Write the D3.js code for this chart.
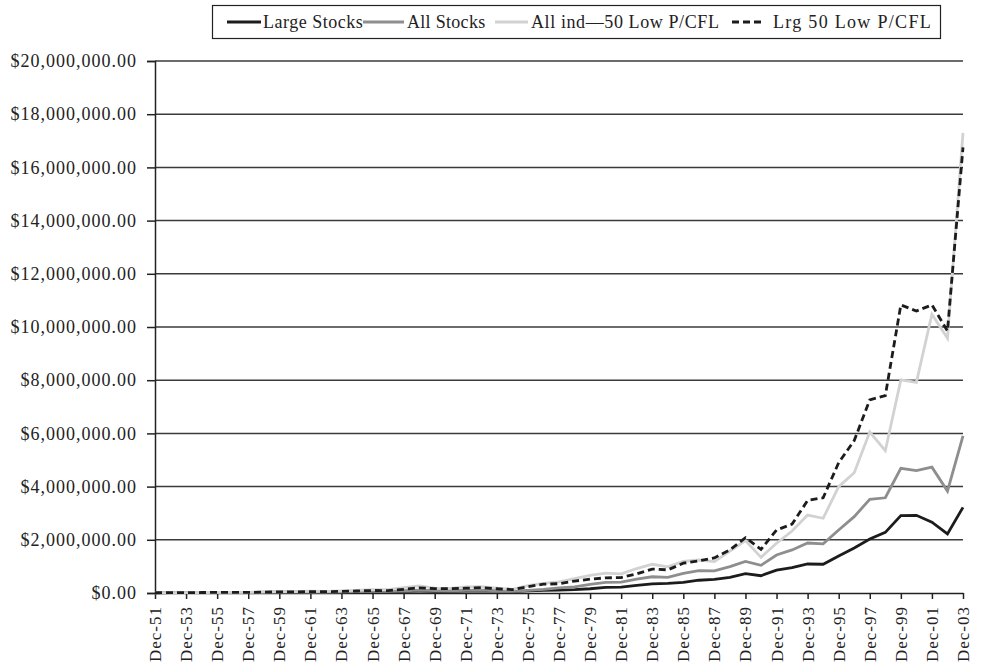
<!DOCTYPE html>
<html>
<head>
<meta charset="utf-8">
<script src="https://cdn.jsdelivr.net/npm/d3@7"></script>
<style>
  html, body { margin: 0; padding: 0; background: #fff; }
  svg { display: block; }
  text { font-family: "Liberation Serif", "Times New Roman", serif; fill: #222; }
</style>
</head>
<body>
<svg id="chart" width="981" height="666"></svg>
<script>
// ---- Data (values in thousands of dollars, year-end) ----
const years = ["Dec-51","Dec-52","Dec-53","Dec-54","Dec-55","Dec-56","Dec-57","Dec-58","Dec-59","Dec-60",
  "Dec-61","Dec-62","Dec-63","Dec-64","Dec-65","Dec-66","Dec-67","Dec-68","Dec-69","Dec-70",
  "Dec-71","Dec-72","Dec-73","Dec-74","Dec-75","Dec-76","Dec-77","Dec-78","Dec-79","Dec-80",
  "Dec-81","Dec-82","Dec-83","Dec-84","Dec-85","Dec-86","Dec-87","Dec-88","Dec-89","Dec-90",
  "Dec-91","Dec-92","Dec-93","Dec-94","Dec-95","Dec-96","Dec-97","Dec-98","Dec-99","Dec-00",
  "Dec-01","Dec-02","Dec-03"];

const largeStocks = [10,11,11,16,20,21,19,27,30,30,
  37,34,41,47,54,50,60,67,62,64,
  73,85,74,55,78,98,110,125,160,210,
  220,290,340,360,400,480,510,590,730,650,
  860,950,1090,1080,1390,1690,2030,2280,2910,2920,
  2660,2220,3220];

const allStocks = [10,11,11,16,19,21,19,28,32,33,
  42,37,45,52,65,60,85,105,88,85,
  100,108,82,60,95,135,190,230,320,400,
  410,520,610,590,740,840,830,990,1190,1040,
  1430,1620,1880,1850,2370,2870,3520,3580,4690,4600,
  4730,3830,5910];

const allIndLowPCFL = [10,12,12,19,24,27,24,40,48,50,
  68,62,82,100,130,125,200,265,185,175,
  230,240,185,140,280,360,420,540,660,750,
  720,920,1080,980,1190,1240,1180,1580,1970,1340,
  1870,2330,2930,2810,4000,4520,6050,5350,8010,7920,
  10480,9580,17300];

const lrgLowPCFL = [10,11,12,18,23,25,22,35,40,41,
  52,48,62,75,95,90,140,195,165,160,
  180,200,160,130,240,330,350,450,520,570,
  580,720,900,870,1120,1210,1320,1620,2080,1640,
  2370,2590,3480,3580,4900,5730,7260,7420,10830,10600,
  10830,9850,16750];

const seriesNames = ["Large Stocks","All Stocks","All ind\u201450 Low P/CFL","Lrg 50 Low P/CFL"];
const yTicks = [0,2000,4000,6000,8000,10000,12000,14000,16000,18000,20000];

// ---- Layout ----
(function () {
const svg = d3.select("#chart");
const mLeft = 155, mRight = 963, mTop = 61, mBottom = 593;

const x = d3.scalePoint().domain(years).range([mLeft, mRight]);
const y = d3.scaleLinear().domain([0, 20000]).range([mBottom, mTop]);

const series = [
  {name: seriesNames[0], values: largeStocks,   color: "#1c1c1c", dash: null},
  {name: seriesNames[1], values: allStocks,     color: "#8e8e8e", dash: null},
  {name: seriesNames[2], values: allIndLowPCFL, color: "#d2d2d2", dash: null},
  {name: seriesNames[3], values: lrgLowPCFL,    color: "#1c1c1c", dash: "7,4"}
];

// gridlines
svg.append("g")
  .selectAll("line")
  .data(yTicks.filter(d => d > 0))
  .join("line")
  .attr("x1", mLeft).attr("x2", mRight)
  .attr("y1", d => y(d)).attr("y2", d => y(d))
  .attr("stroke", "#3a3a3a").attr("stroke-width", 1.5);

// y axis
const fmt = v => "$" + d3.format(",.2f")(v * 1000);
const yAxis = svg.append("g")
  .attr("transform", `translate(${mLeft},0)`)
  .call(d3.axisLeft(y).tickValues(yTicks).tickFormat(fmt).tickSize(8).tickPadding(10));
yAxis.select(".domain").attr("stroke", "#222").attr("stroke-width", 1.5);
yAxis.selectAll(".tick line").attr("stroke", "#222").attr("stroke-width", 1.5);
yAxis.selectAll(".tick text")
  .style("font-family", "'Liberation Serif', serif")
  .style("font-size", "18px")
  .style("letter-spacing", "1px")
  .attr("fill", "#222");

// x axis
const xTickVals = years.filter((d, i) => i % 2 === 0);
const xAxis = svg.append("g")
  .attr("transform", `translate(0,${mBottom})`)
  .call(d3.axisBottom(x).tickValues(xTickVals).tickSize(6).tickSizeOuter(0).tickPadding(4));
xAxis.select(".domain").attr("stroke", "#222").attr("stroke-width", 1.5);
xAxis.selectAll(".tick line").attr("stroke", "#222").attr("stroke-width", 1.5);
xAxis.selectAll(".tick text")
  .style("font-family", "'Liberation Serif', serif")
  .style("font-size", "17px")
  .style("letter-spacing", "1px")
  .attr("fill", "#222")
  .attr("transform", "rotate(-90)")
  .attr("text-anchor", "end")
  .attr("dx", "-13px").attr("dy", "0")
  .attr("x", 0).attr("y", 0)
  .style("dominant-baseline", "central");

// lines
const line = d3.line()
  .x((d, i) => x(years[i]))
  .y(d => y(d));

svg.append("g")
  .selectAll("path")
  .data(series)
  .join("path")
  .attr("fill", "none")
  .attr("stroke", d => d.color)
  .attr("stroke-width", 2.8)
  .attr("stroke-linejoin", "miter")
  .attr("stroke-dasharray", d => d.dash)
  .attr("d", d => line(d.values));

// legend
const lg = svg.append("g");
lg.append("rect")
  .attr("x", 212.5).attr("y", 5.5).attr("width", 728).attr("height", 33)
  .attr("fill", "#fff").attr("stroke", "#222").attr("stroke-width", 1.2);
const legendItems = [
  {s: series[0], x1: 227, x2: 261, tx: 263, ls: 0.5},
  {s: series[1], x1: 363, x2: 404, tx: 407, ls: 0.3},
  {s: series[2], x1: 495, x2: 528, tx: 531, ls: 0.6},
  {s: series[3], x1: 732, x2: 764, tx: 773, ls: 1.3}
];
legendItems.forEach(it => {
  lg.append("line")
    .attr("x1", it.x1).attr("x2", it.x2).attr("y1", 22).attr("y2", 22)
    .attr("stroke", it.s.color).attr("stroke-width", 2.8)
    .attr("stroke-dasharray", it.s.dash);
  lg.append("text")
    .attr("x", it.tx).attr("y", 22)
    .attr("dominant-baseline", "central")
    .style("font-size", "18px")
    .style("letter-spacing", it.ls + "px")
    .text(it.s.name);
});
})();
</script>
</body>
</html>
